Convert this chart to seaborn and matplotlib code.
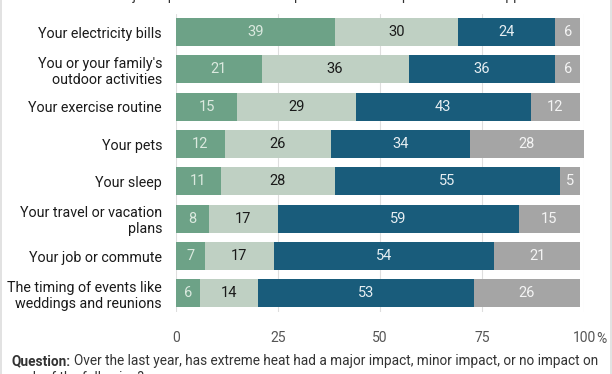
import matplotlib
matplotlib.use('Agg')
import matplotlib.pyplot as plt
import seaborn as sns
import numpy as np
import pandas as pd
from matplotlib.lines import Line2D

# data
categories = [
    "Your electricity bills",
    "You or your family's\noutdoor activities",
    "Your exercise routine",
    "Your pets",
    "Your sleep",
    "Your travel or vacation\nplans",
    "Your job or commute",
    "The timing of events like\nweddings and reunions",
]
major_impact = [39, 21, 15, 12, 11, 8, 7, 6]
minor_impact = [30, 36, 29, 26, 28, 17, 17, 14]
no_impact = [24, 36, 43, 34, 55, 59, 54, 53]
not_applicable = [6, 6, 12, 28, 5, 15, 21, 26]

series_names = ["Major impact", "Minor impact", "No impact", "Not applicable"]
colors = ["#6da287", "#bfd0c3", "#195c7b", "#a5a5a5"]
text_colors = ["#dbe9df", "#1a1a1a", "#e6eef2", "#f4f4f4"]

sns.set_theme(style="white")
plt.rcParams['font.family'] = ['Roboto', 'DejaVu Sans']

df = pd.DataFrame({
    'category': categories,
    'Major impact': major_impact,
    'Minor impact': minor_impact,
    'No impact': no_impact,
    'Not applicable': not_applicable,
})
cum = df[series_names].cumsum(axis=1)

fig = plt.figure(figsize=(6.12, 3.74), dpi=100)
ax = fig.add_axes([176 / 612, 1 - 312 / 374, 408 / 612, (312 - 13.5) / 374])

# stacked bars: draw the cumulative totals from the back to the front
for i in range(3, -1, -1):
    sns.barplot(x=cum[series_names[i]], y=df['category'], orient='h',
                color=colors[i], saturation=1, width=0.75, ax=ax,
                edgecolor='none', linewidth=0)

# value labels in the middle of each segment
for i, name in enumerate(series_names):
    left = cum[name] - df[name]
    for row, (l, v) in enumerate(zip(left, df[name])):
        ax.text(l + v / 2, row, str(v), ha='center', va='center',
                fontsize=10.5, color=text_colors[i])

ax.set_xlim(0, 100)
ax.set_ylim(7.5, -0.5)
ax.set_xticks([0, 25, 50, 75, 100])
ax.set_xticklabels(['0', '25', '50', '75', '100'])
ax.annotate('%', xy=(100, 0), xycoords=('data', 'axes fraction'),
            xytext=(8.5, -19.5), textcoords='offset points', ha='left', va='center',
            fontsize=10, color='#555555', annotation_clip=False)
ax.set_xlabel('')
ax.set_ylabel('')
ax.grid(axis='x', color='#dedede', linewidth=0.8)
ax.set_axisbelow(True)
for s in ax.spines.values():
    s.set_visible(False)
ax.tick_params(axis='x', length=0, pad=13.5, labelsize=10, labelcolor='#555555')
ax.tick_params(axis='y', length=0, pad=10, labelsize=10.3, labelcolor='#1a1a1a')
for lbl in ax.get_yticklabels():
    lbl.set_linespacing(1.2)

# legend row, mostly cut off at the top edge
legend_x = [154, 280, 397, 516]
for name, x in zip(series_names, legend_x):
    fig.text(x / 612, 1 + 4 / 374, name, ha='center', va='center',
             fontsize=10, color='#333333')

# question note at the bottom
note_y = 1 - 361 / 374
q = fig.text(11 / 612, note_y, 'Question:', ha='left', va='center',
             fontsize=9.8, fontweight='bold', color='#333333')
fig.canvas.draw()
q_end = q.get_window_extent().x1 / fig.bbox.width
fig.text(q_end + 4 / 612, note_y,
         'Over the last year, has extreme heat had a major impact, minor impact, or no impact on',
         ha='left', va='center', fontsize=9.8, color='#333333')
fig.text(11 / 612, 1 - 378 / 374, 'each of the following?', ha='left', va='center',
         fontsize=9.8, color='#333333')

# thin frame lines on the sides
fig.add_artist(Line2D([1 / 612, 1 / 612], [0, 1], color='#dddddd', linewidth=1.2,
                      transform=fig.transFigure))
fig.add_artist(Line2D([611 / 612, 611 / 612], [0, 1], color='#dddddd', linewidth=1.2,
                      transform=fig.transFigure))

fig.savefig('out.png', dpi=100)
plt.close(fig)
